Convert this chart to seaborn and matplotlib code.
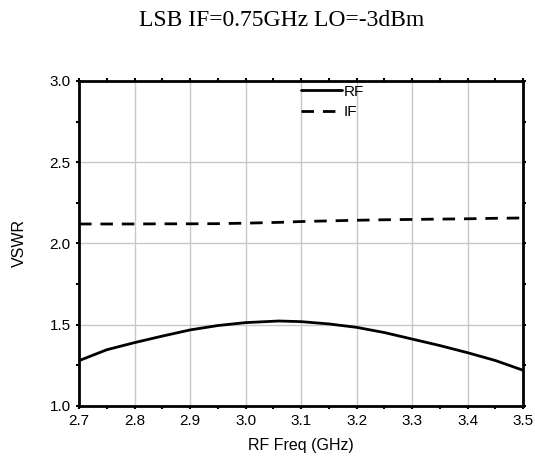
import numpy as np
import pandas as pd
import seaborn as sns
import matplotlib.pyplot as plt
from matplotlib.ticker import MultipleLocator

freq = [2.70, 2.75, 2.80, 2.85, 2.90, 2.95, 3.00, 3.06, 3.10, 3.15, 3.20, 3.25, 3.30, 3.35, 3.40, 3.45, 3.50]
rf_vswr = [1.279, 1.346, 1.390, 1.430, 1.468, 1.495, 1.513, 1.523, 1.519, 1.505, 1.484, 1.452, 1.412, 1.372, 1.328, 1.280, 1.220]
if_vswr = [2.120, 2.120, 2.120, 2.121, 2.121, 2.122, 2.125, 2.130, 2.135, 2.139, 2.143, 2.146, 2.148, 2.150, 2.152, 2.155, 2.157]

df = pd.DataFrame({'freq': freq * 2,
                   'vswr': rf_vswr + if_vswr,
                   'kind': ['RF'] * len(freq) + ['IF'] * len(freq)})

sns.set_theme(style='whitegrid')
plt.rcParams['font.family'] = ['Liberation Sans', 'DejaVu Sans']
plt.rcParams['text.color'] = 'black'
plt.rcParams['axes.labelcolor'] = 'black'

fig = plt.figure(figsize=(5.35, 4.66), dpi=100)
ax = fig.add_axes([0.1477, 0.1288, 0.8299, 0.6974])

sns.lineplot(data=df, x='freq', y='vswr', hue='kind', style='kind',
             palette={'RF': 'black', 'IF': 'black'},
             dashes={'RF': '', 'IF': (4.5, 3.2)}, linewidth=2, ax=ax)

ax.set_xlim(2.7, 3.5)
ax.set_ylim(1.0, 3.0)
ax.xaxis.set_major_locator(MultipleLocator(0.1))
ax.xaxis.set_minor_locator(MultipleLocator(0.05))
ax.yaxis.set_major_locator(MultipleLocator(0.5))
ax.yaxis.set_minor_locator(MultipleLocator(0.25))
ax.grid(True, which='major', color='#c8c8c8', linewidth=1)
ax.grid(False, which='minor')
for s in ax.spines.values():
    s.set_color('black')
    s.set_linewidth(2)
ax.tick_params(which='both', direction='out', color='black', width=1.5,
               labelsize=11, labelcolor='black', left=True, bottom=True)
ax.tick_params(which='major', length=4)
ax.tick_params(which='minor', length=3.5)
ax.tick_params(which='both', top=True, right=True, length=2.5,
               labeltop=False, labelright=False)
ax.set_xlabel('RF Freq (GHz)', fontsize=11.5, labelpad=7, color='black')
ax.set_ylabel('VSWR', fontsize=11.5, labelpad=16, color='black')

leg = ax.legend(loc='upper center', bbox_to_anchor=(0.57, 1.008), frameon=False,
                fontsize=11, handlelength=2.7, handletextpad=0.1, labelspacing=0.45,
                borderaxespad=0)
for t in leg.get_texts():
    t.set_color('black')

fig.text(0.527, 0.957, 'LSB IF=0.75GHz LO=-3dBm', ha='center', va='center',
         fontsize=17, color='black', family=['Liberation Serif', 'DejaVu Serif'])

fig.savefig('out.png', dpi=100, facecolor='white')
